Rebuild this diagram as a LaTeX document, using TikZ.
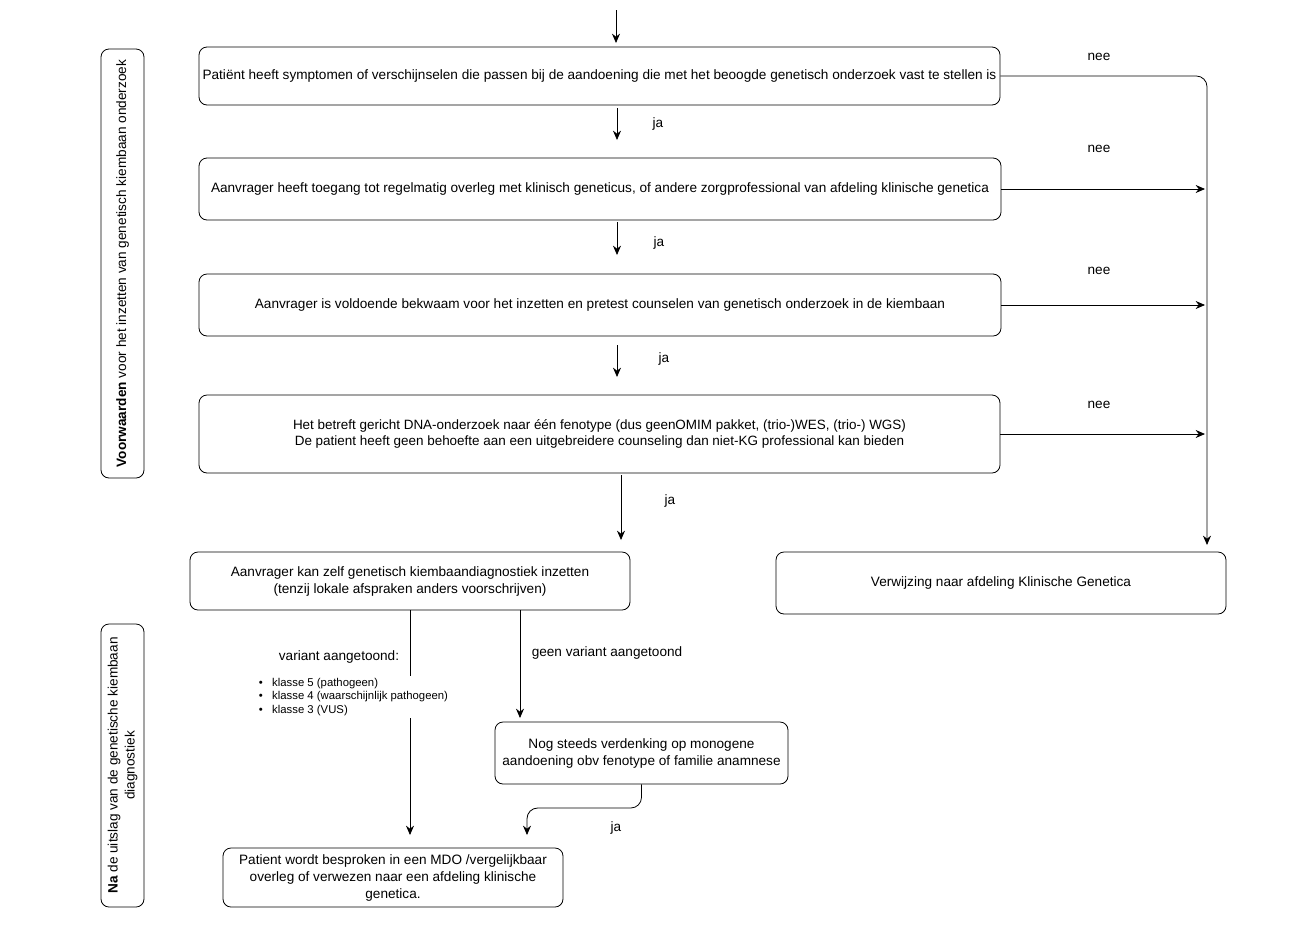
\documentclass[tikz,border=0pt]{standalone}
\usepackage{fontspec}
\setmainfont{Liberation Sans}
\usetikzlibrary{arrows.meta}
\begin{document}
\begin{tikzpicture}[x=0.75pt,y=-0.75pt,
  font=\fontsize{10.2}{12.75}\selectfont,
  box/.style={draw, rounded corners=6pt, align=center, inner sep=0pt, line width=0.6pt},
  side/.style={draw, rounded corners=6pt, align=center, inner sep=0pt, rotate=90, line width=0.6pt},
  conn/.style={line width=0.6pt, -{Stealth[length=7pt,width=6pt]}},
  lbl/.style={inner sep=1pt}]
\useasboundingbox (0,0) rectangle (1307,936);

\node[box, minimum width=600.75pt, minimum height=43.5pt] (b1) at (599.5,76) {Patiënt heeft symptomen of verschijnselen die passen bij de aandoening die met het beoogde genetisch onderzoek vast te stellen is};
\node[box, minimum width=601.5pt, minimum height=46.5pt] (b2) at (600,189) {Aanvrager heeft toegang tot regelmatig overleg met klinisch geneticus, of andere zorgprofessional van afdeling klinische genetica};
\node[box, minimum width=601.5pt, minimum height=46.5pt] (b3) at (600,305) {Aanvrager is voldoende bekwaam voor het inzetten en pretest counselen van genetisch onderzoek in de kiembaan};
\node[box, minimum width=600.75pt, minimum height=58.5pt, font=\fontsize{10.1}{12}\selectfont] (b4) at (599.5,434) {Het betreft gericht DNA-onderzoek naar één fenotype (dus geenOMIM pakket, (trio-)WES, (trio-) WGS)\\De patient heeft geen behoefte aan een uitgebreidere counseling dan niet-KG professional kan bieden};
\node[box, minimum width=330pt, minimum height=43.5pt] (b5) at (410,581) {Aanvrager kan zelf genetisch kiembaandiagnostiek inzetten\\(tenzij lokale afspraken anders voorschrijven)};
\node[box, minimum width=337.5pt, minimum height=46.5pt] (b6) at (1001,583) {Verwijzing naar afdeling Klinische Genetica};
\node[box, minimum width=219.75pt, minimum height=46.5pt] (b7) at (641.5,753) {Nog steeds verdenking op monogene\\aandoening obv fenotype of familie anamnese};
\node[box, minimum width=255pt, minimum height=44.25pt] (b8) at (393,877.5) {Patient wordt besproken in een MDO /vergelijkbaar\\overleg of verwezen naar een afdeling klinische\\genetica.};

\node[side, minimum width=321.75pt, minimum height=32.25pt] (s1) at (122.5,263.5) {\textbf{Voorwaarden} voor het inzetten van genetisch kiembaan onderzoek};
\node[side, minimum width=212.25pt, minimum height=32.25pt] (s2) at (122.5,765.5) {\textbf{Na} de uitslag van de genetische kiembaan\\diagnostiek};

% free vertical arrows
\coordinate (t0) at (616,10); \coordinate (t1) at (616,43);
\coordinate (a1) at (617,108); \coordinate (a2) at (617,140);
\coordinate (a3) at (617,222); \coordinate (a4) at (617,255);
\coordinate (a5) at (617,345); \coordinate (a6) at (617,377);
\coordinate (a7) at (621,475); \coordinate (a8) at (621,540);
\draw[conn] (t0) -- (t1);
\draw[conn] (a1) -- (a2);
\draw[conn] (a3) -- (a4);
\draw[conn] (a5) -- (a6);
\draw[conn] (a7) -- (a8);
\node[lbl] (j1) at (658,124) {ja};
\node[lbl] (j2) at (659,243) {ja};
\node[lbl] (j3) at (664,359) {ja};
\node[lbl] (j4) at (670,501) {ja};

% nee branches
\coordinate (r1) at (1207,545);
\coordinate (r2) at (1205,189);
\coordinate (r3) at (1205,305);
\coordinate (r4) at (1205,434);
\draw[conn, rounded corners=8pt] (b1.east) -| (r1);
\draw[conn] (b2.east) -- (r2);
\draw[conn] (b3.east) -- (r3);
\draw[conn] (b4.east) -- (r4);
\node[lbl] (n1) at (1099,57) {nee};
\node[lbl] (n2) at (1099,149) {nee};
\node[lbl] (n3) at (1099,271) {nee};
\node[lbl] (n4) at (1099,405) {nee};

% results
\coordinate (v0) at (520,610);
\coordinate (v1) at (520,718);
\draw[conn] (v0) -- (v1);
\node[lbl] (gv) at (607,653) {geen variant aangetoond};

\coordinate (p1) at (410,835);
\draw[conn] (b5.south) -- (p1);
\node[lbl] (va) at (339,657) {variant aangetoond:};
\node[fill=white, inner sep=2pt, align=left, font=\fontsize{8.5}{10.1}\selectfont, anchor=west] (lst) at (256,697)
  {\textbullet\hspace{7pt}klasse 5 (pathogeen)\\\textbullet\hspace{7pt}klasse 4 (waarschijnlijk pathogeen)\\\textbullet\hspace{7pt}klasse 3 (VUS)};

\coordinate (k1) at (527,808);
\coordinate (k2) at (527,835);
\draw[conn, rounded corners=8pt] (b7.south) |- (k1) -- (k2);
\node[lbl] (j5) at (616,828) {ja};
\end{tikzpicture}
\end{document}
